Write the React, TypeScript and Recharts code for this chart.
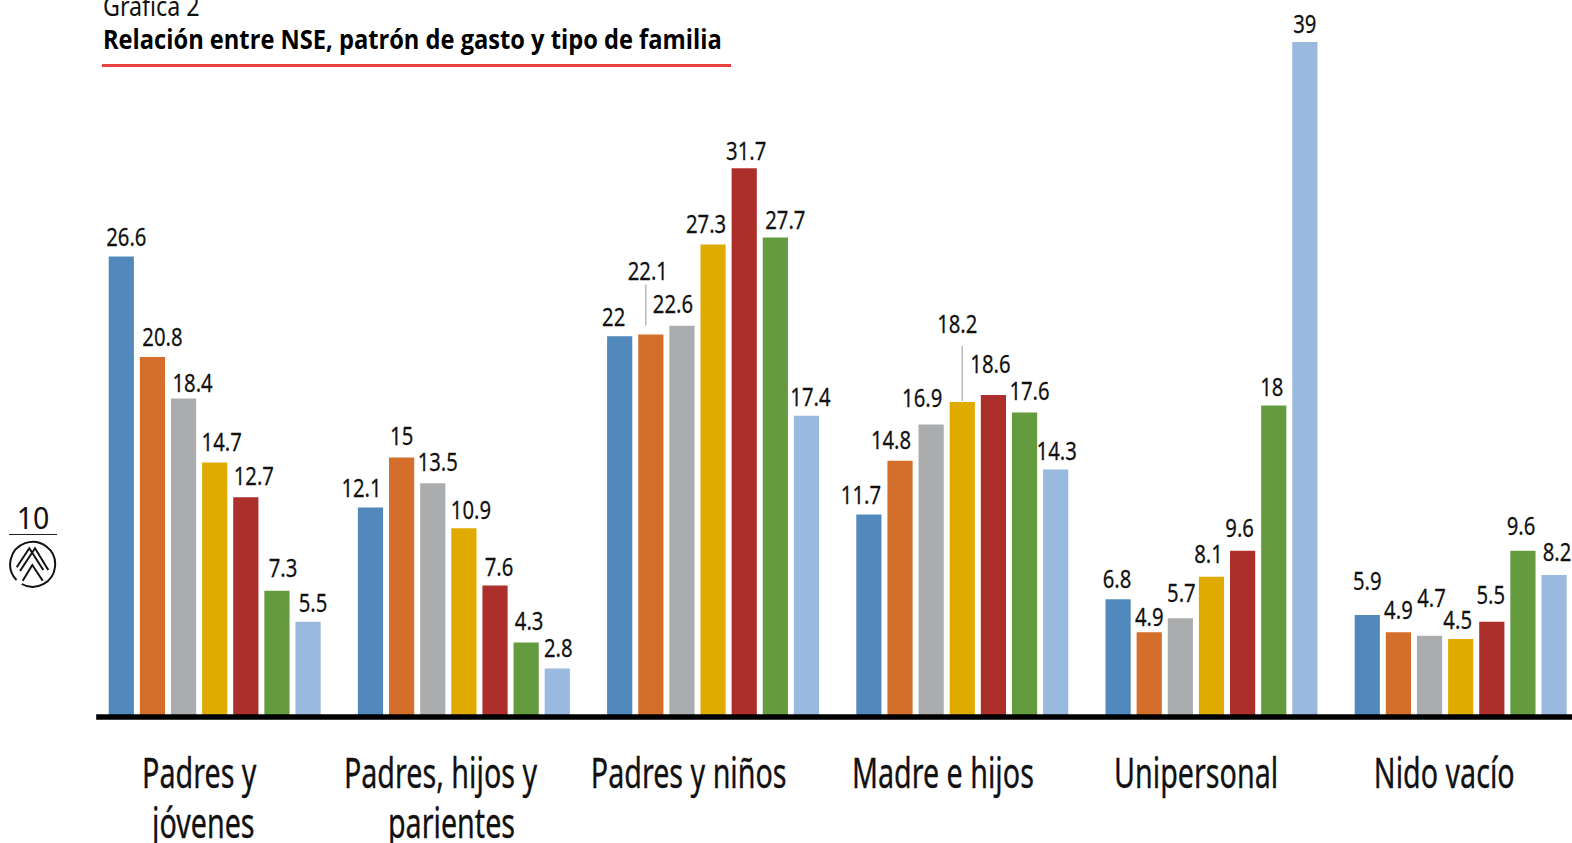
import React from 'react';
import { BarChart, Bar, XAxis, YAxis, LabelList, ReferenceLine } from 'recharts';

const categories = ['Padres y jóvenes', 'Padres, hijos y parientes', 'Padres y niños', 'Madre e hijos', 'Unipersonal', 'Nido vacío'];
const tickLines = [['Padres y', 'jóvenes'], ['Padres, hijos y', 'parientes'], ['Padres y niños'], ['Madre e hijos'], ['Unipersonal'], ['Nido vacío']];

const serie1 = [26.6, 12.1, 22, 11.7, 6.8, 5.9];
const serie2 = [20.8, 15, 22.1, 14.8, 4.9, 4.9];
const serie3 = [18.4, 13.5, 22.6, 16.9, 5.7, 4.7];
const serie4 = [14.7, 10.9, 27.3, 18.2, 8.1, 4.5];
const serie5 = [12.7, 7.6, 31.7, 18.6, 9.6, 5.5];
const serie6 = [7.3, 4.3, 27.7, 17.6, 18, 9.6];
const serie7 = [5.5, 2.8, 17.4, 14.3, 39, 8.2];
const allSeries = [serie1, serie2, serie3, serie4, serie5, serie6, serie7];
const colors = ['#5289bc', '#d36e2b', '#abacae', '#e0ab00', '#ac2f2b', '#659b3f', '#9ab9df'];

const data = categories.map((name, i) => {
  const row: any = { name };
  allSeries.forEach((s, k) => { row['s' + k] = s[i]; });
  return row;
});

// hand placed data labels, [dx, dy] from bar centre / bar top, one row per series
const labelNudges = [
  [[5, -20], [-9, -20], [-6, -19], [-8, -19], [-1, -20], [0, -34]],
  [[10, -20], [0, -21], [-3, -64], [-9, -21], [0, -15], [0, -22]],
  [[9, -16], [5, -21], [-9, -22], [-9, -27], [1, -25], [2, -38]],
  [[7, -21], [7, -18], [-7, -21], [-5, -78], [-3, -23], [-3, -19]],
  [[8, -21], [4, -18], [2, -17], [-3, -31], [-3, -23], [-1, -27]],
  [[6, -23], [3, -22], [10, -18], [5, -21], [-2, -18], [-2, -25]],
  [[5, -19], [1, -21], [4, -19], [1, -18], [0, -18], [3, -23]],
];
const leaders: any = { '1-2': { dx: -5, from: -9, to: -50 }, '3-3': { dx: 0, from: -1, to: -56 } };

const FONT = '"Noto Sans", sans-serif';

const makeLabel = (seriesIndex: number) => (props: any) => {
  const { x, y, width, value, index } = props;
  const [dx, dy] = labelNudges[seriesIndex][index];
  const cx = x + width / 2;
  const leader = leaders[seriesIndex + '-' + index];
  return (
    <g>
      {leader && <line x1={cx + leader.dx} x2={cx + leader.dx} y1={y + leader.from} y2={y + leader.to} stroke="#b5b5b5" strokeWidth={1.4} />}
      <text transform={`translate(${cx + dx},${y + dy + 9}) scale(0.78,1)`} textAnchor="middle" fontFamily={FONT} fontSize={26} fill="#111" stroke="#111" strokeWidth={0.25}>{value}</text>
    </g>
  );
};

const tickNudge = [[-15, -11], [-23, -12], [-24], [-19], [-15], [-16]];

const CategoryTick = (props: any) => {
  const { x, payload } = props;
  const lines = tickLines[payload.index];
  return (
    <g>
      {lines.map((line: string, i: number) => (
        <text key={line} transform={`translate(${x + tickNudge[payload.index][i]},${788 + i * 50}) scale(0.7,1)`} textAnchor="middle" fontFamily={FONT} fontSize={41} fill="#111" stroke="#111" strokeWidth={0.35}>{line}</text>
      ))}
    </g>
  );
};

const BaseLine = (props: any) => (
  <line x1={props.x1 + 6.5} x2={props.x2} y1={props.y1} y2={props.y2} stroke="#000" strokeWidth={5.5} />
);

const App: React.FC = () => {
  return (
    <div style={{ position: 'fixed', left: 0, top: 0, width: 1572, height: 843, overflow: 'hidden', background: '#fff' }}>
      <div style={{ position: 'absolute', left: 103, top: -14, fontFamily: FONT, fontSize: 28, color: '#111', whiteSpace: 'nowrap', transform: 'scaleX(0.83)', transformOrigin: 'left' }}>Gráfica 2</div>
      <div style={{ position: 'absolute', left: 103, top: 21, fontFamily: '"Open Sans", sans-serif', fontWeight: 700, fontSize: 26, color: '#000', whiteSpace: 'nowrap', transform: 'scaleX(0.91)', transformOrigin: 'left' }}>Relación entre NSE, patrón de gasto y tipo de familia</div>
      <div style={{ position: 'absolute', left: 102, top: 64, width: 629, height: 3, background: '#e8403c' }} />
      <div style={{ position: 'absolute', left: 9, top: 497, width: 48, textAlign: 'center', fontFamily: '"Noto Sans", sans-serif', fontSize: 30, color: '#111', transform: 'scaleX(0.95)' }}>10</div>
      <div style={{ position: 'absolute', left: 9, top: 534, width: 48, height: 1, background: '#222' }} />
      <svg style={{ position: 'absolute', left: 0, top: 540 }} width={64} height={50} viewBox="0 0 64 50">
        <path d="M16.5 40 A22.5 22.5 0 1 1 21.7 44" fill="none" stroke="#111" strokeWidth={2} />
        <path d="M16.7 27.3 L29.3 8.3 L43.3 30 M20 31 L35 8.3 L48.3 30 M22.7 40.7 L32.3 25 L42.7 40.7" fill="none" stroke="#111" strokeWidth={2} />
      </svg>
      <BarChart width={1584.9} height={843} data={data} margin={{ top: 42, right: 0, bottom: 0, left: 89.7 }} barSize={25.2} barGap={5.93} style={{ position: 'absolute', left: 0, top: 0 }}>
        <XAxis dataKey="name" height={126} axisLine={false} tickLine={false} interval={0} tick={<CategoryTick />} />
        <YAxis hide domain={[0, 39]} />
        {allSeries.map((_, k) => (
          <Bar key={k} dataKey={'s' + k} fill={colors[k]} isAnimationActive={false}>
            <LabelList dataKey={'s' + k} content={makeLabel(k)} />
          </Bar>
        ))}
        <ReferenceLine y={0} shape={<BaseLine />} />
      </BarChart>
    </div>
  );
};

export default App;
